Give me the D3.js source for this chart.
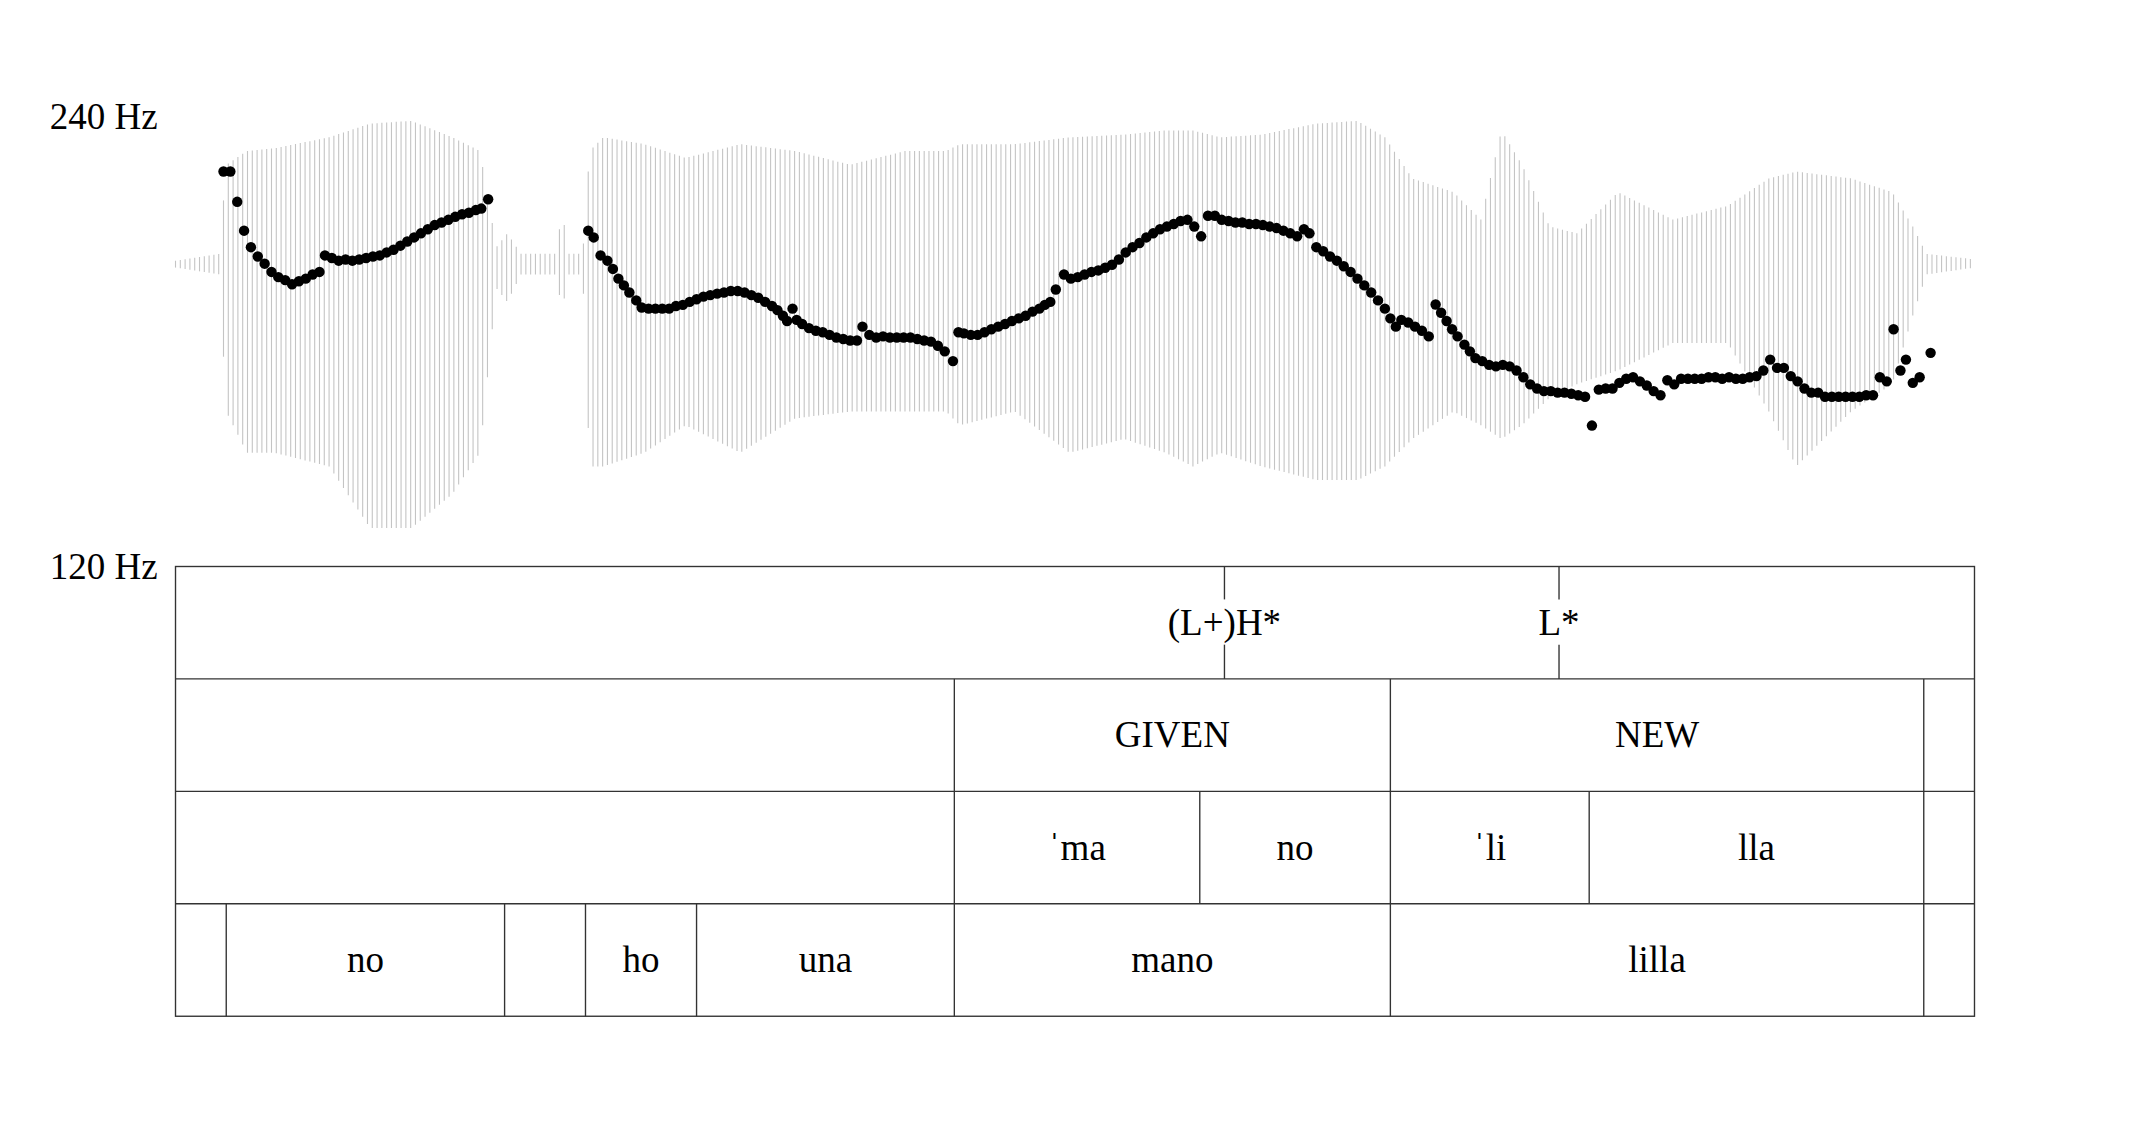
<!DOCTYPE html>
<html><head><meta charset="utf-8">
<script src="https://cdn.jsdelivr.net/npm/d3@7/dist/d3.min.js"></script>
<style>body{margin:0;background:#fff}svg{display:block}text{font-family:"Liberation Serif","DejaVu Serif",serif;fill:#000}</style>
</head><body>
<script>
const durationMs = 2624;
const hzTicks = [120, 240];
const pitch = [
[70,225.4],[80,225.4],[90,217.3],[100,209.6],[110,205.2],[120,202.7],[130,200.8],[140,198.6],[150,197.2],[160,196.4],[170,195.3],[180,196.1],[190,196.8],[200,197.9],[210,198.6],[218,203.0],[228,202.3],[238,201.6],[248,201.9],[258,201.6],[268,201.9],[278,202.3],[288,202.7],[298,203.0],[308,203.8],[318,204.5],[328,205.6],[338,206.7],[348,207.8],[358,208.9],[368,210.0],[378,211.1],[388,211.8],[398,212.5],[408,213.3],[418,214.0],[428,214.4],[438,215.1],[446,215.5],[456,218.0],
[602,209.6],[610,207.8],[620,203.0],[630,201.6],[638,199.4],[646,196.8],[654,195.0],[662,193.1],[672,191.0],[680,189.1],[690,188.8],[700,188.8],[710,188.8],[720,188.8],[730,189.5],[740,189.8],[750,190.6],[760,191.3],[770,192.0],[780,192.4],[790,192.8],[800,193.1],[810,193.5],[820,193.5],[830,193.1],[840,192.4],[850,191.7],[860,190.6],[870,189.5],[878,188.4],[886,186.9],[892,185.5],[900,188.8],[906,185.8],[914,184.7],[924,183.6],[934,182.9],[944,182.5],[954,181.8],[964,181.1],[974,180.7],[984,180.3],[994,180.3],[1002,184.0],[1012,181.8],[1022,181.1],[1032,181.4],[1042,181.1],[1052,181.1],[1062,181.1],[1072,181.1],[1082,180.7],[1092,180.3],[1102,180.0],[1112,178.9],[1122,177.4],[1134,174.8],
[1142,182.5],[1150,182.2],[1160,181.8],[1170,181.8],[1180,182.5],[1190,183.3],[1200,184.0],[1210,184.7],[1220,185.5],[1230,186.2],[1240,186.9],[1250,188.0],[1260,188.8],[1268,189.8],[1276,190.6],[1284,193.9],[1296,197.9],[1306,196.8],[1316,197.2],[1326,197.9],[1336,198.6],[1346,199.0],[1356,199.7],[1366,200.5],[1376,201.9],[1386,203.8],[1396,205.2],[1406,206.3],[1416,207.8],[1426,208.9],[1436,210.0],[1446,210.7],[1456,211.4],[1466,212.2],[1476,212.5],[1486,210.7],[1496,208.1],[1506,213.6],[1516,213.6],[1526,212.5],[1536,212.2],[1546,211.8],[1556,211.8],[1566,211.4],[1576,211.4],[1586,211.1],[1596,210.7],[1606,210.3],[1616,209.6],[1626,208.9],[1636,208.1],[1646,210.0],[1654,208.9],[1664,205.2],[1674,204.1],[1684,202.7],[1694,201.6],[1704,200.1],[1714,198.6],[1724,196.8],[1734,195.0],[1744,193.1],[1754,191.0],[1764,188.8],[1772,186.2],[1780,184.0],[1788,185.8],[1798,185.1],[1808,184.0],[1818,182.9],[1828,181.4],[1838,189.9],[1846,187.7],[1854,185.5],[1862,183.3],[1870,181.4],[1880,179.2],[1888,177.4],[1896,175.6],[1906,174.8],[1916,173.8],[1926,173.4],[1936,173.8],[1946,173.4],[1956,172.3],[1966,170.5],[1976,168.6],[1986,167.5],[1996,166.8],[2006,166.8],[2016,166.4],[2026,166.4],[2036,166.1],[2046,165.7],[2056,165.3],[2066,157.6],[2076,167.2],[2086,167.5],[2096,167.5],[2106,169.0],[2116,170.1],[2126,170.5],[2136,169.4],[2146,168.3],[2156,166.8],[2166,165.7],[2176,169.7],[2186,168.6],[2196,170.1],[2206,170.1],[2216,170.1],[2226,170.1],[2236,170.5],[2246,170.5],[2256,170.1],[2266,170.5],[2276,170.1],[2286,170.1],[2296,170.5],[2306,170.8],[2316,172.3],[2326,175.2],[2336,173.0],[2346,173.0],[2356,170.8],[2366,169.4],[2376,167.5],[2386,166.4],[2396,166.4],[2406,165.3],[2416,165.3],[2426,165.3],[2436,165.3],[2446,165.3],[2456,165.3],[2466,165.7],[2476,165.7],[2486,170.5],[2496,169.4],[2506,183.3],[2516,172.3],[2524,175.2],[2534,169.0],[2544,170.5],[2560,177.0]
];
const envelope = [
[0,0.02,-0.03],[64,0.07,-0.08],[74,0.72,-1.08],[104,0.82,-1.38],[144,0.84,-1.38],[224,0.92,-1.48],[284,1.02,-1.93],[344,1.04,-1.93],[404,0.92,-1.68],[444,0.82,-1.38],[468,0.12,-0.18],[484,0.22,-0.28],[504,0.07,-0.08],[554,0.07,-0.08],[564,0.37,-0.33],[574,0.07,-0.08],[594,0.07,-0.08],[604,0.82,-1.48],[624,0.92,-1.48],[684,0.87,-1.38],[744,0.77,-1.18],[824,0.87,-1.38],[904,0.82,-1.13],[984,0.72,-1.08],[1064,0.82,-1.08],[1124,0.82,-1.08],[1144,0.87,-1.18],[1224,0.87,-1.08],[1304,0.92,-1.38],[1384,0.94,-1.28],[1444,0.97,-1.38],[1484,0.97,-1.48],[1524,0.92,-1.38],[1584,0.94,-1.48],[1664,1.02,-1.58],[1724,1.04,-1.58],[1764,0.92,-1.48],[1804,0.62,-1.28],[1864,0.52,-1.08],[1904,0.32,-1.18],[1934,0.97,-1.28],[1964,0.72,-1.18],[2004,0.27,-0.98],[2044,0.22,-0.88],[2104,0.52,-0.78],[2184,0.32,-0.58],[2264,0.42,-0.58],[2324,0.62,-1.08],[2364,0.67,-1.48],[2444,0.62,-1.08],[2504,0.52,-0.88],[2534,0.27,-0.38],[2554,0.07,-0.08],[2624,0.03,-0.03]
];
const toneTier = [[1530,"(L+)H*"],[2018,"L*"]];
const infoTier = [[0,1136,""],[1136,1772,"GIVEN"],[1772,2550,"NEW"],[2550,2624,""]];
const syllTier = [[0,1136,""],[1136,1494,"ˈma"],[1494,1772,"no"],[1772,2062,"ˈli"],[2062,2550,"lla"],[2550,2624,""]];
const wordTier = [[0,74,""],[74,480,"no"],[480,598,""],[598,760,"ho"],[760,1136,"una"],[1136,1772,"mano"],[1772,2550,"lilla"],[2550,2624,""]];

const svg = d3.select("body").append("svg").attr("width",2150).attr("height",1133).attr("viewBox","0 0 1568 826");
const x = d3.scaleLinear().domain([0,durationMs]).range([128,1440]);
const y = d3.scaleLinear().domain([120,240]).range([413,85]);
const amp = d3.scaleLinear().domain([-1,1]).range([292,92]);
const fs = 27;

// waveform
const tTop = d3.scaleLinear().domain(envelope.map(d=>d[0])).range(envelope.map(d=>d[1]));
const tBot = d3.scaleLinear().domain(envelope.map(d=>d[0])).range(envelope.map(d=>d[2]));
const ts = d3.range(0,durationMs,7);
const wav = svg.append("g").attr("stroke","#c4c4c4").attr("stroke-width",0.8);
wav.selectAll("line").data(ts).join("line")
  .attr("x1",d=>x(d)).attr("x2",d=>x(d))
  .attr("y1",d=>amp(tTop(d))).attr("y2",d=>amp(tBot(d)));

// pitch
svg.append("g").selectAll("circle").data(pitch).join("circle")
  .attr("cx",d=>x(d[0])).attr("cy",d=>y(d[1])).attr("r",3.8).attr("fill","#000");

// Hz labels
svg.selectAll(".hz").data(hzTicks).join("text").attr("class","hz")
  .attr("x",115).attr("y",d=>y(d)+9).attr("text-anchor","end").attr("font-size",fs).text(d=>d+" Hz");

// tiers
const tierTop = [413,495,577,659];
const th = 82;
const g = svg.append("g").attr("stroke","#333").attr("stroke-width",1);
g.append("rect").attr("x",x(0)).attr("y",tierTop[0]).attr("width",x(durationMs)-x(0)).attr("height",th*4).attr("fill","none");
tierTop.slice(1).forEach(t=>g.append("line").attr("x1",x(0)).attr("x2",x(durationMs)).attr("y1",t).attr("y2",t));
toneTier.forEach(([t,l])=>{
  g.append("line").attr("x1",x(t)).attr("x2",x(t)).attr("y1",413).attr("y2",437);
  g.append("line").attr("x1",x(t)).attr("x2",x(t)).attr("y1",470).attr("y2",495);
  svg.append("text").attr("x",x(t)).attr("y",413+th/2+9).attr("text-anchor","middle").attr("font-size",fs).text(l);
});
[[infoTier,1],[syllTier,2],[wordTier,3]].forEach(([tier,i])=>{
  const top = tierTop[i];
  tier.forEach(([s,e,l],j)=>{
    if(j>0) g.append("line").attr("x1",x(s)).attr("x2",x(s)).attr("y1",top).attr("y2",top+th);
    if(l) svg.append("text").attr("x",(x(s)+x(e))/2).attr("y",top+th/2+9).attr("text-anchor","middle").attr("font-size",fs).text(l);
  });
});
</script>
</body></html>
